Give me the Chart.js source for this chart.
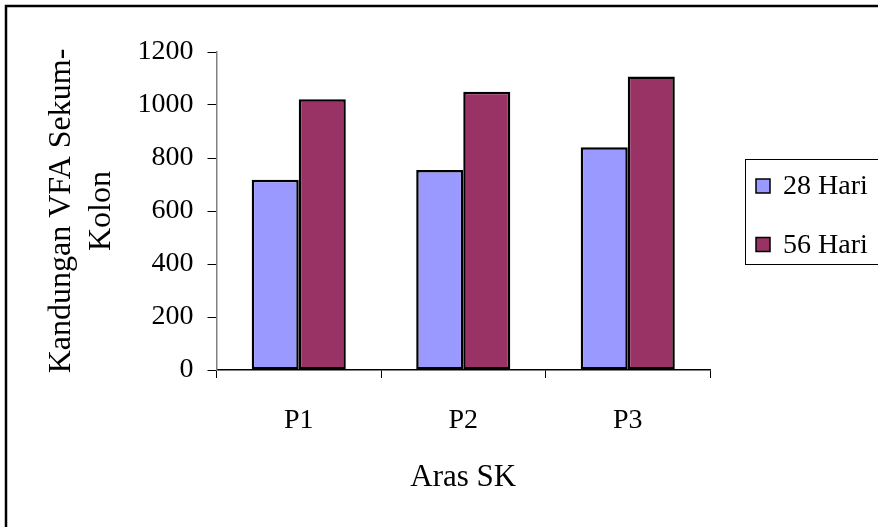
<!DOCTYPE html>
<html>
<head>
<meta charset="utf-8">
<script src="https://cdn.jsdelivr.net/npm/chart.js@4.4.0/dist/chart.umd.min.js"></script>
<style>
  html, body { margin: 0; padding: 0; background: #fff; }
  #wrap { width: 878px; height: 527px; }
</style>
</head>
<body>
<div id="wrap"><canvas id="bar-chart"></canvas></div>
<script>
// data
const categories = ["P1", "P2", "P3"];
const hari28 = [718, 755, 841];
const hari56 = [1022, 1050, 1108];
const seriesNames = ["28 Hari", "56 Hari"];
const yTicks = [0, 200, 400, 600, 800, 1000, 1200];

const serif = "'Liberation Serif', 'Times New Roman', serif";

// outer frame + boxed legend, drawn after the chart
const frameAndLegend = {
  id: "frameAndLegend",
  afterDraw(chart) {
    const ctx = chart.ctx;
    ctx.save();
    ctx.strokeStyle = "#000";
    ctx.lineWidth = 2.5;
    ctx.strokeRect(6, 6, 900, 600);

    // legend box
    ctx.lineWidth = 1;
    ctx.strokeRect(745.5, 159.5, 200, 105);
    const rows = [186, 244.5];
    chart.data.datasets.forEach(function (ds, i) {
      ctx.fillStyle = ds.backgroundColor;
      ctx.fillRect(756, rows[i] - 7, 14, 14);
      ctx.lineWidth = 1.5;
      ctx.strokeRect(756, rows[i] - 7, 14, 14);
      ctx.fillStyle = "#000";
      ctx.font = "28px " + serif;
      ctx.textBaseline = "middle";
      ctx.textAlign = "left";
      ctx.fillText(ds.label, 783, rows[i] + 1);
    });
    ctx.restore();
  }
};

new Chart(document.getElementById("bar-chart"), {
  type: "bar",
  data: {
    labels: categories,
    datasets: [
      {
        label: seriesNames[0],
        data: hari28,
        backgroundColor: "#9999FF",
        borderColor: "#000",
        borderWidth: 2.5,
        borderSkipped: false
      },
      {
        label: seriesNames[1],
        data: hari56,
        backgroundColor: "#993366",
        borderColor: "#000",
        borderWidth: 2.5,
        borderSkipped: false
      }
    ]
  },
  options: {
    responsive: true,
    maintainAspectRatio: false,
    animation: false,
    layout: { padding: { left: 0, right: 168, top: 52, bottom: 0 } },
    datasets: { bar: { categoryPercentage: 0.572, barPercentage: 1.0 } },
    plugins: {
      legend: { display: false },
      tooltip: { enabled: false }
    },
    scales: {
      x: {
        afterFit: function (s) { s.height = 157; },
        grid: { drawOnChartArea: false, tickLength: 8, color: "#000", offset: true },
        border: { color: "#000", width: 1.5 },
        ticks: { color: "#000", padding: 26, font: { family: serif, size: 28 } },
        title: {
          display: true,
          text: "Aras SK",
          color: "#000",
          padding: { top: 0, bottom: 31 },
          font: { family: serif, size: 31 }
        }
      },
      y: {
        min: 0,
        max: 1200,
        afterFit: function (s) { s.width = 216.5; },
        afterBuildTicks: function (s) { s.ticks = yTicks.map(v => ({ value: v })); },
        grid: { drawOnChartArea: false, tickLength: 9, color: "#000" },
        border: { color: "#808080", width: 1.5 },
        ticks: {
          color: "#000",
          padding: 14,
          font: { family: serif, size: 28 },
          callback: function (v) { return String(v); }
        },
        title: {
          display: true,
          text: ["Kandungan VFA Sekum-", "Kolon"],
          color: "#000",
          padding: { top: 42, bottom: 0 },
          font: { family: serif, size: 32, lineHeight: 1.25 }
        }
      }
    }
  },
  plugins: [frameAndLegend]
});
</script>
</body>
</html>
